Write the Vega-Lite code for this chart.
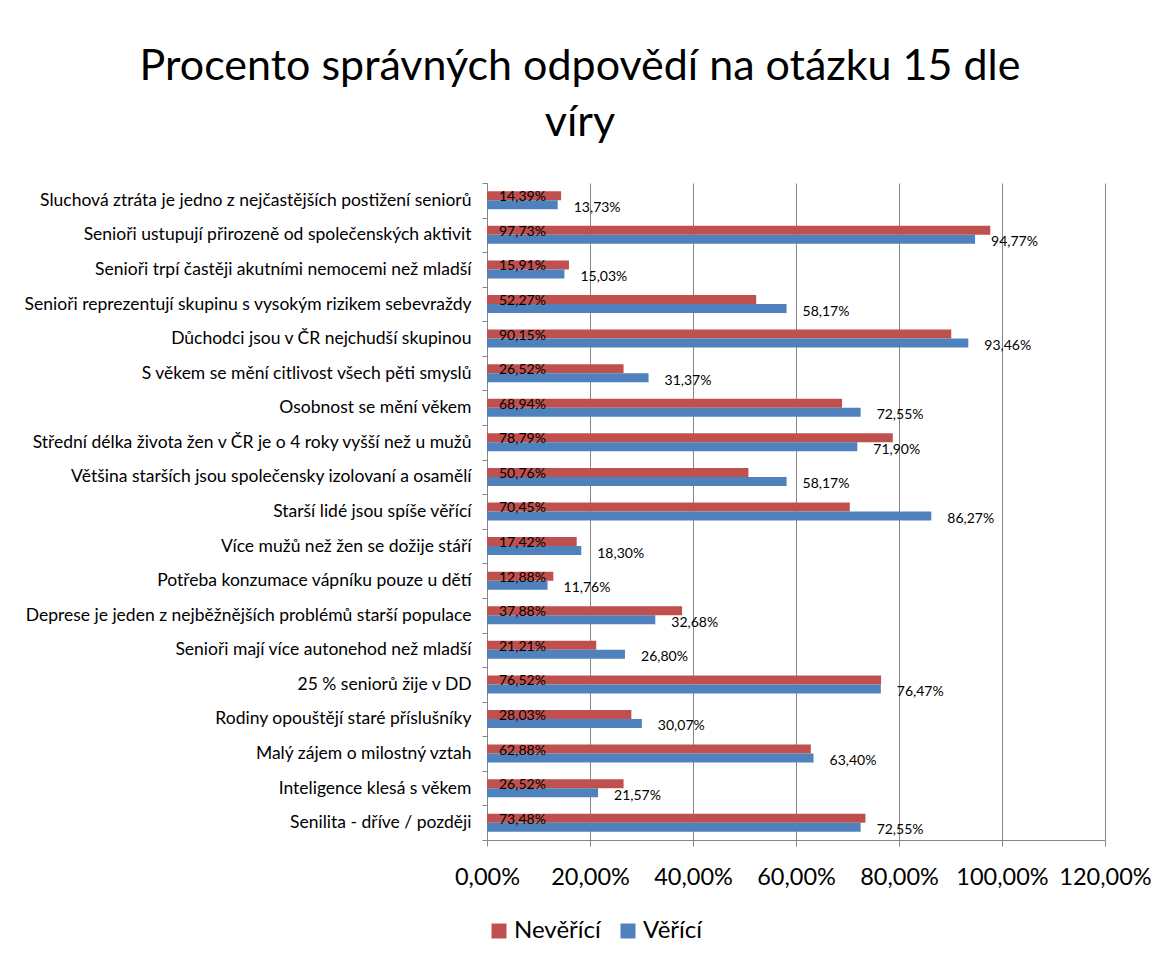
{
  "$schema": "https://vega.github.io/schema/vega-lite/v6.json",
  "width": 618,
  "height": 657,
  "autosize": {"type": "none"},
  "padding": {"left": 487, "top": 183, "right": 63, "bottom": 122},
  "background": "white",
  "title": {
    "text": ["Procento správných odpovědí na otázku 15 dle", "víry"],
    "anchor": "middle",
    "dx": -216,
    "offset": 29,
    "fontSize": 43,
    "font": "Lato",
    "fontWeight": "normal",
    "color": "black",
    "lineHeight": 56
  },
  "config": {
    "locale": {"number": {"decimal": ",", "thousands": " ", "grouping": [3], "currency": ["", " Kč"]}},
    "font": "Lato",
    "view": {"stroke": null}
  },
  "data": {
    "values": [
      {"otazka": "Sluchová ztráta je jedno z nejčastějších postižení seniorů", "skupina": "Nevěřící", "hodnota": 0.1439},
      {"otazka": "Sluchová ztráta je jedno z nejčastějších postižení seniorů", "skupina": "Věřící", "hodnota": 0.1373},
      {"otazka": "Senioři ustupují přirozeně od společenských aktivit", "skupina": "Nevěřící", "hodnota": 0.9773},
      {"otazka": "Senioři ustupují přirozeně od společenských aktivit", "skupina": "Věřící", "hodnota": 0.9477},
      {"otazka": "Senioři trpí častěji akutními nemocemi než mladší", "skupina": "Nevěřící", "hodnota": 0.1591},
      {"otazka": "Senioři trpí častěji akutními nemocemi než mladší", "skupina": "Věřící", "hodnota": 0.1503},
      {"otazka": "Senioři reprezentují skupinu s vysokým rizikem sebevraždy", "skupina": "Nevěřící", "hodnota": 0.5227},
      {"otazka": "Senioři reprezentují skupinu s vysokým rizikem sebevraždy", "skupina": "Věřící", "hodnota": 0.5817},
      {"otazka": "Důchodci jsou v ČR nejchudší skupinou", "skupina": "Nevěřící", "hodnota": 0.9015},
      {"otazka": "Důchodci jsou v ČR nejchudší skupinou", "skupina": "Věřící", "hodnota": 0.9346},
      {"otazka": "S věkem se mění citlivost všech pěti smyslů", "skupina": "Nevěřící", "hodnota": 0.2652},
      {"otazka": "S věkem se mění citlivost všech pěti smyslů", "skupina": "Věřící", "hodnota": 0.3137},
      {"otazka": "Osobnost se mění věkem", "skupina": "Nevěřící", "hodnota": 0.6894},
      {"otazka": "Osobnost se mění věkem", "skupina": "Věřící", "hodnota": 0.7255},
      {"otazka": "Střední délka života žen v ČR je o 4 roky vyšší než u mužů", "skupina": "Nevěřící", "hodnota": 0.7879},
      {"otazka": "Střední délka života žen v ČR je o 4 roky vyšší než u mužů", "skupina": "Věřící", "hodnota": 0.7190},
      {"otazka": "Většina starších jsou společensky izolovaní a osamělí", "skupina": "Nevěřící", "hodnota": 0.5076},
      {"otazka": "Většina starších jsou společensky izolovaní a osamělí", "skupina": "Věřící", "hodnota": 0.5817},
      {"otazka": "Starší lidé jsou spíše věřící", "skupina": "Nevěřící", "hodnota": 0.7045},
      {"otazka": "Starší lidé jsou spíše věřící", "skupina": "Věřící", "hodnota": 0.8627},
      {"otazka": "Více mužů než žen se dožije stáří", "skupina": "Nevěřící", "hodnota": 0.1742},
      {"otazka": "Více mužů než žen se dožije stáří", "skupina": "Věřící", "hodnota": 0.1830},
      {"otazka": "Potřeba konzumace vápníku pouze u dětí", "skupina": "Nevěřící", "hodnota": 0.1288},
      {"otazka": "Potřeba konzumace vápníku pouze u dětí", "skupina": "Věřící", "hodnota": 0.1176},
      {"otazka": "Deprese je jeden z nejběžnějších problémů starší populace", "skupina": "Nevěřící", "hodnota": 0.3788},
      {"otazka": "Deprese je jeden z nejběžnějších problémů starší populace", "skupina": "Věřící", "hodnota": 0.3268},
      {"otazka": "Senioři mají více autonehod než mladší", "skupina": "Nevěřící", "hodnota": 0.2121},
      {"otazka": "Senioři mají více autonehod než mladší", "skupina": "Věřící", "hodnota": 0.2680},
      {"otazka": "25 % seniorů žije v DD", "skupina": "Nevěřící", "hodnota": 0.7652},
      {"otazka": "25 % seniorů žije v DD", "skupina": "Věřící", "hodnota": 0.7647},
      {"otazka": "Rodiny opouštějí staré příslušníky", "skupina": "Nevěřící", "hodnota": 0.2803},
      {"otazka": "Rodiny opouštějí staré příslušníky", "skupina": "Věřící", "hodnota": 0.3007},
      {"otazka": "Malý zájem o milostný vztah", "skupina": "Nevěřící", "hodnota": 0.6288},
      {"otazka": "Malý zájem o milostný vztah", "skupina": "Věřící", "hodnota": 0.6340},
      {"otazka": "Inteligence klesá s věkem", "skupina": "Nevěřící", "hodnota": 0.2652},
      {"otazka": "Inteligence klesá s věkem", "skupina": "Věřící", "hodnota": 0.2157},
      {"otazka": "Senilita - dříve / později", "skupina": "Nevěřící", "hodnota": 0.7348},
      {"otazka": "Senilita - dříve / později", "skupina": "Věřící", "hodnota": 0.7255}
    ]
  },
  "encoding": {
    "y": {
      "field": "otazka",
      "type": "nominal",
      "sort": null,
      "title": null,
      "scale": {"paddingInner": 0, "paddingOuter": 0},
      "axis": {
        "tickBand": "extent",
        "tickSize": 5,
        "tickColor": "#868686",
        "domainColor": "#868686",
        "labelFontSize": 17.5,
        "labelColor": "black",
        "labelPadding": 11,
        "labelLimit": 480,
        "grid": false
      }
    },
    "yOffset": {
      "field": "skupina",
      "type": "nominal",
      "scale": {"domain": ["Nevěřící", "Věřící"], "paddingInner": 0, "paddingOuter": 0.92}
    }
  },
  "layer": [
    {
      "mark": {"type": "bar"},
      "encoding": {
        "x": {
          "field": "hodnota",
          "type": "quantitative",
          "title": null,
          "scale": {"domain": [0, 1.2], "nice": false},
          "axis": {
            "values": [0, 0.2, 0.4, 0.6, 0.8, 1.0, 1.2],
            "format": ".2%",
            "grid": true,
            "gridColor": "#868686",
            "gridWidth": 1,
            "domainColor": "#868686",
            "tickColor": "#868686",
            "tickSize": 6,
            "labelFontSize": 23.5,
            "labelColor": "black",
            "labelPadding": 19,
            "labelFlush": false
          }
        },
        "color": {
          "field": "skupina",
          "type": "nominal",
          "title": null,
          "scale": {"domain": ["Nevěřící", "Věřící"], "range": ["#C0504D", "#4F81BD"]},
          "legend": {
            "orient": "none",
            "direction": "horizontal",
            "legendX": 0,
            "legendY": 736,
            "symbolType": "square",
            "symbolSize": 225,
            "symbolStrokeWidth": 0,
            "labelFontSize": 24,
            "labelColor": "black",
            "columnPadding": 15,
            "labelOffset": 3
          }
        }
      }
    },
    {
      "transform": [{"filter": "datum.skupina === 'Nevěřící'"}],
      "mark": {"type": "text", "align": "left", "baseline": "middle", "dx": 12, "dy": 1.5, "fontSize": 14, "color": "black"},
      "encoding": {
        "x": {"datum": 0, "type": "quantitative"},
        "text": {"field": "hodnota", "type": "quantitative", "format": ".2%"}
      }
    },
    {
      "transform": [{"filter": "datum.skupina === 'Věřící'"}],
      "mark": {"type": "text", "align": "left", "baseline": "middle", "dx": 16, "dy": 3, "fontSize": 14, "color": "black"},
      "encoding": {
        "x": {"field": "hodnota", "type": "quantitative"},
        "text": {"field": "hodnota", "type": "quantitative", "format": ".2%"}
      }
    }
  ]
}
